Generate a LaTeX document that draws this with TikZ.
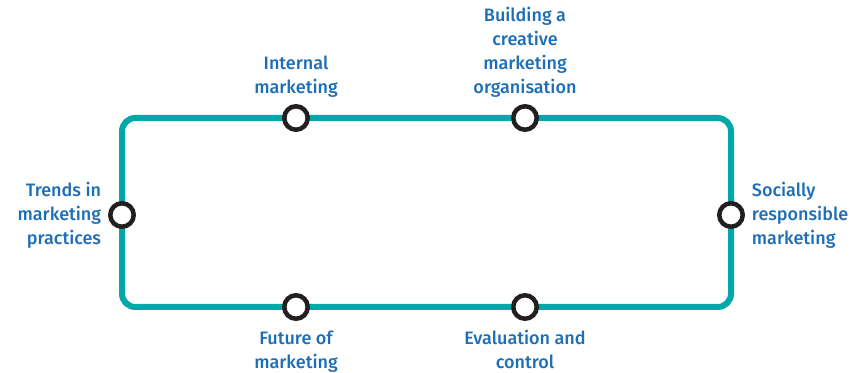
\documentclass[tikz,border=0pt]{standalone}
\usepackage{fontspec}
\setmainfont{Fira Sans}[UprightFont=* Medium]
\usepackage{tikz}
\usetikzlibrary{positioning}
\definecolor{trackteal}{RGB}{0,168,170}
\definecolor{labelblue}{RGB}{28,110,182}
\definecolor{stopdark}{RGB}{35,31,32}

\begin{document}
\begin{tikzpicture}[x=0.75pt,y=-0.75pt,node distance=5pt,
  track/.style={draw=trackteal,line width=4.5pt,rounded corners=10pt},
  stop/.style={circle,draw=stopdark,fill=white,line width=3.4pt,minimum size=17.6pt,inner sep=0pt},
  lbl/.style={text=labelblue,inner sep=0pt,font=\fontsize{13.5}{18}\selectfont}]
\useasboundingbox (0,0) rectangle (857,373);
\coordinate (nw) at (122,118);
\coordinate (se) at (731,307);
\draw[track] (nw) rectangle (se);
% stops along the loop
\node[stop] (internal) at (296,118) {};
\node[stop] (creative) at (525,118) {};
\node[stop] (trends) at (122,215) {};
\node[stop] (social) at (731,215) {};
\node[stop] (future) at (296,307) {};
\node[stop] (evaluation) at (525,307) {};
% labels
\node[lbl,align=center,above=of internal] {Internal\\marketing};
\node[lbl,align=center,above=of creative] {Building a\\creative\\marketing\\organisation};
\node[lbl,align=right,left=of trends] {Trends in\\marketing\\practices};
\node[lbl,align=left,right=of social] {Socially\\responsible\\marketing};
\node[lbl,align=center,below=7pt of future] {Future of\\marketing};
\node[lbl,align=center,below=7pt of evaluation] {Evaluation and\\control};
\end{tikzpicture}
\end{document}
